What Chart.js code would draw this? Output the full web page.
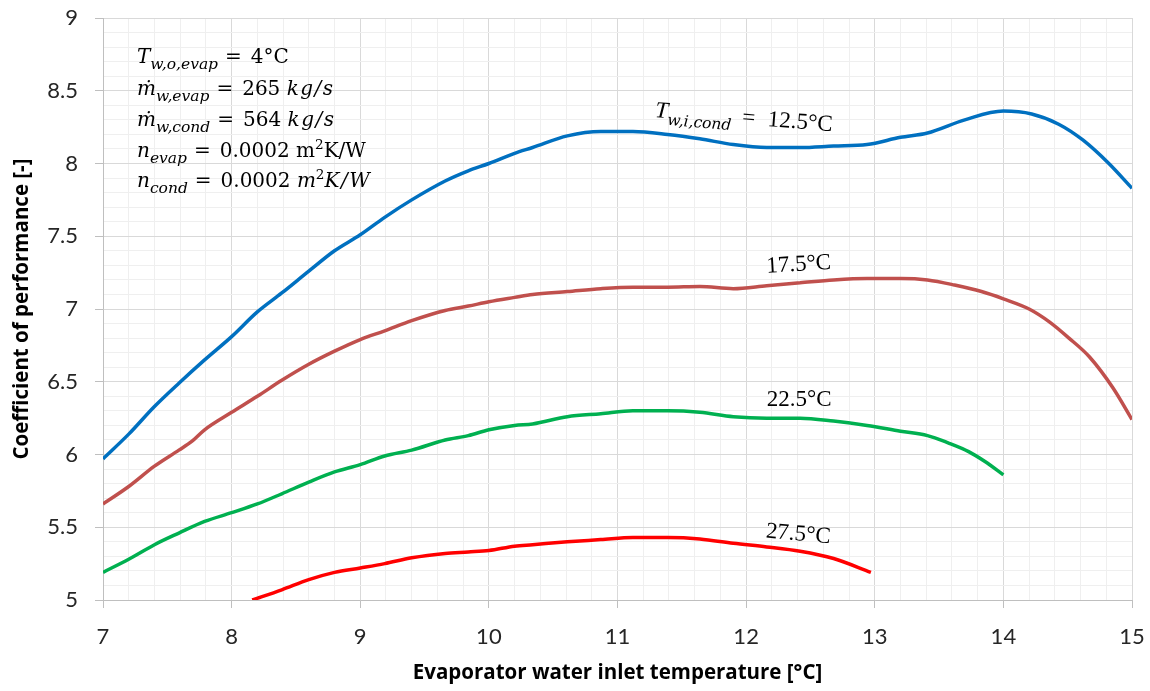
<!DOCTYPE html>
<html>
<head>
<meta charset="utf-8">
<script src="https://cdn.jsdelivr.net/npm/chart.js@4.4.0/dist/chart.umd.min.js"></script>
<style>
  html, body { margin: 0; padding: 0; background: #ffffff; }
  canvas { display: block; }
</style>
</head>
<body>
<canvas id="cop" width="1150" height="691"></canvas>
<script>
// Evaporator water inlet temperature [°C] and COP for each condenser inlet temperature
const tEvap125 = [7, 7.2, 7.4, 7.59, 7.79, 8, 8.2, 8.39, 8.6, 8.8, 9, 9.19, 9.4, 9.66, 9.84, 10, 10.2, 10.34, 10.61, 10.87, 11.12, 11.39, 11.64, 11.9, 12.16, 12.42, 12.68, 12.94, 13.2, 13.41, 13.7, 14, 14.22, 14.43, 14.62, 14.82, 15];
const cop125   = [5.97, 6.14, 6.33, 6.49, 6.65, 6.81, 6.98, 7.11, 7.26, 7.40, 7.51, 7.63, 7.75, 7.88, 7.95, 8.0, 8.07, 8.11, 8.19, 8.22, 8.22, 8.20, 8.17, 8.13, 8.11, 8.11, 8.12, 8.13, 8.18, 8.21, 8.30, 8.36, 8.34, 8.27, 8.16, 8.0, 7.83];

const tEvap175 = [7, 7.2, 7.4, 7.59, 7.69, 7.79, 8, 8.2, 8.39, 8.6, 8.8, 9, 9.19, 9.4, 9.66, 9.84, 10, 10.2, 10.34, 10.61, 10.87, 11.12, 11.39, 11.64, 11.9, 12.16, 12.42, 12.68, 12.94, 13.2, 13.41, 13.62, 13.83, 14, 14.2, 14.36, 14.51, 14.67, 14.85, 15];
const cop175   = [5.66, 5.78, 5.92, 6.03, 6.09, 6.17, 6.29, 6.40, 6.51, 6.62, 6.71, 6.79, 6.85, 6.92, 6.99, 7.02, 7.05, 7.08, 7.10, 7.12, 7.14, 7.15, 7.15, 7.155, 7.14, 7.16, 7.18, 7.20, 7.21, 7.21, 7.20, 7.165, 7.12, 7.07, 7.0, 6.91, 6.8, 6.67, 6.46, 6.24];

const tEvap225 = [7, 7.2, 7.4, 7.59, 7.79, 8, 8.2, 8.39, 8.6, 8.8, 9, 9.19, 9.4, 9.66, 9.84, 10, 10.2, 10.34, 10.61, 10.87, 11.12, 11.39, 11.64, 11.9, 12.16, 12.42, 12.68, 12.94, 13.2, 13.41, 13.57, 13.73, 13.86, 14];
const cop225   = [5.19, 5.28, 5.38, 5.46, 5.54, 5.60, 5.66, 5.73, 5.81, 5.88, 5.93, 5.99, 6.03, 6.10, 6.13, 6.17, 6.20, 6.21, 6.26, 6.28, 6.30, 6.30, 6.29, 6.26, 6.25, 6.25, 6.23, 6.20, 6.16, 6.13, 6.08, 6.02, 5.95, 5.86];

const tEvap275 = [8.16, 8.39, 8.6, 8.8, 9, 9.19, 9.4, 9.66, 9.84, 10, 10.2, 10.34, 10.61, 10.87, 11.12, 11.39, 11.64, 11.9, 12.16, 12.42, 12.68, 12.97];
const cop275   = [5.0, 5.07, 5.14, 5.19, 5.22, 5.25, 5.29, 5.32, 5.33, 5.34, 5.37, 5.38, 5.40, 5.415, 5.43, 5.43, 5.42, 5.39, 5.365, 5.335, 5.285, 5.19];

const condTempLabels = ['12.5°C', '17.5°C', '22.5°C', '27.5°C'];
const seriesColors = ['#0070C0', '#C0504D', '#00B050', '#FF0000'];

const xTitle = 'Evaporator water inlet temperature [°C]';
const yTitle = 'Coefficient of performance [-]';

const toPoints = (xs, ys) => xs.map((x, i) => ({ x, y: ys[i] }));
const isWhole = v => Math.abs(v - Math.round(v)) < 1e-6;
const isHalf = v => Math.abs(v * 2 - Math.round(v * 2)) < 1e-6;

// Typesetting styles for the math-like annotations
const blockStyle = { size: 20, family: '"DejaVu Serif", "Liberation Serif", serif', subSize: 15.5, eqPre: 0.35, eqPost: 0.45, italicSpacing: 1.5 };
const tagStyle = { size: 23, family: '"Liberation Serif", "DejaVu Serif", serif', subSize: 15.5, eqPre: 0.45, eqPost: 0.55, italicSpacing: 0 };
const SUB_FAMILY = '"DejaVu Serif", "Liberation Serif", serif';

// Draws a run of text pieces; each piece is [text, flags] with flags from:
// i (italic), sub, sup, eq (equals sign with math spacing)
function drawRich(ctx, parts, x, y, st) {
  let cx = x;
  const size = st.size;
  for (const [text, flags] of parts) {
    const f = flags.split(' ');
    const italic = f.includes('i');
    const sub = f.includes('sub');
    const sup = f.includes('sup');
    ctx.letterSpacing = '0px';
    if (f.includes('eq')) {
      ctx.font = size + 'px ' + st.family;
      cx += size * st.eqPre;
      ctx.fillText('=', cx, y);
      cx += ctx.measureText('=').width + size * st.eqPost;
      continue;
    }
    let fs = size, fam = st.family, dy = 0;
    if (sub) { fs = st.subSize; fam = SUB_FAMILY; dy = size * 0.3; }
    if (sup) { fs = size * 0.68; dy = -size * 0.38; }
    if (italic && !sub && text.length > 1) ctx.letterSpacing = st.italicSpacing + 'px';
    ctx.font = (italic ? 'italic ' : '') + fs.toFixed(1) + 'px ' + fam;
    ctx.fillText(text, cx, y + dy);
    cx += ctx.measureText(text).width;
  }
  ctx.letterSpacing = '0px';
}

const paramLines = [
  [['T', 'i'], ['w,o,evap', 'i sub'], ['', 'eq'], ['4°C', '']],
  [['ṁ', 'i'], ['w,evap', 'i sub'], ['', 'eq'], ['265 ', ''], ['kg/s', 'i']],
  [['ṁ', 'i'], ['w,cond', 'i sub'], ['', 'eq'], ['564 ', ''], ['kg/s', 'i']],
  [['n', 'i'], ['evap', 'i sub'], ['', 'eq'], ['0.0002 m', ''], ['2', 'sup'], ['K/W', '']],
  [['n', 'i'], ['cond', 'i sub'], ['', 'eq'], ['0.0002 ', ''], ['m', 'i'], ['2', 'sup'], ['K/W', 'i']]
];

const annotations = {
  id: 'annotations',
  afterDatasetsDraw(chart) {
    const { ctx, scales: { x, y } } = chart;
    ctx.save();
    ctx.fillStyle = '#000000';
    ctx.textBaseline = 'alphabetic';
    ctx.textAlign = 'left';

    // Operating conditions block
    const baselines = [63, 95, 126, 157, 187];
    paramLines.forEach((parts, i) => drawRich(ctx, parts, 137, baselines[i], blockStyle));

    // Curve labels, anchored in data coordinates
    const curveTags = [
      { at: [11.29, 8.32], rot: 0.08, parts: [['T', 'i'], ['w,i,cond', 'i sub'], ['', 'eq'], [condTempLabels[0], '']] },
      { at: [12.16, 7.25], rot: -0.06, parts: [[condTempLabels[1], '']] },
      { at: [12.16, 6.33], rot: 0.0, parts: [[condTempLabels[2], '']] },
      { at: [12.15, 5.43], rot: 0.09, parts: [[condTempLabels[3], '']] }
    ];
    for (const tag of curveTags) {
      ctx.save();
      ctx.translate(x.getPixelForValue(tag.at[0]), y.getPixelForValue(tag.at[1]));
      ctx.rotate(tag.rot);
      drawRich(ctx, tag.parts, 0, 0, tagStyle);
      ctx.restore();
    }
    ctx.restore();
  }
};

const majorGrid = '#D9D9D9';
const minorGrid = '#EFEFEF';
const tickFont = { family: 'Lato, "Open Sans", sans-serif', size: 22 };
const titleFont = { family: '"Open Sans", Lato, sans-serif', size: 20.5, weight: 'bold' };

new Chart(document.getElementById('cop'), {
  type: 'line',
  data: {
    datasets: [
      { label: condTempLabels[0], data: toPoints(tEvap125, cop125), borderColor: seriesColors[0] },
      { label: condTempLabels[1], data: toPoints(tEvap175, cop175), borderColor: seriesColors[1] },
      { label: condTempLabels[2], data: toPoints(tEvap225, cop225), borderColor: seriesColors[2] },
      { label: condTempLabels[3], data: toPoints(tEvap275, cop275), borderColor: seriesColors[3] }
    ]
  },
  options: {
    responsive: false,
    animation: false,
    devicePixelRatio: 1,
    layout: { padding: { top: 18, right: 18, left: 0, bottom: 0 } },
    plugins: { legend: { display: false }, tooltip: { enabled: false } },
    elements: {
      point: { radius: 0 },
      line: { borderWidth: 3.5, cubicInterpolationMode: 'monotone', capBezierPoints: true }
    },
    scales: {
      x: {
        type: 'linear',
        min: 7,
        max: 15,
        afterFit(scale) {
          scale.height = 91;
          scale.paddingLeft = 0;
          scale.paddingRight = 0;
        },
        ticks: {
          stepSize: 0.2,
          autoSkip: false,
          maxRotation: 0,
          padding: 16,
          color: '#262626',
          font: tickFont,
          callback: v => isWhole(v) ? String(Math.round(v)) : ''
        },
        grid: {
          lineWidth: 1,
          tickLength: 8,
          color: c => isWhole(c.tick.value) ? majorGrid : minorGrid,
          tickColor: c => isWhole(c.tick.value) ? '#BFBFBF' : 'rgba(0,0,0,0)'
        },
        border: { color: '#BFBFBF', width: 1 },
        title: { display: true, text: xTitle, color: '#000000', font: titleFont, padding: { top: 0, bottom: 6 } }
      },
      y: {
        type: 'linear',
        min: 5,
        max: 9,
        afterFit(scale) {
          scale.width = 103;
          scale.paddingTop = 0;
          scale.paddingBottom = 0;
        },
        ticks: {
          stepSize: 0.1,
          autoSkip: false,
          padding: 17,
          color: '#262626',
          font: tickFont,
          callback: v => isHalf(v) ? String(Math.round(v * 10) / 10) : ''
        },
        grid: {
          lineWidth: 1,
          tickLength: 8,
          color: c => isHalf(c.tick.value) ? majorGrid : minorGrid,
          tickColor: c => isHalf(c.tick.value) ? '#BFBFBF' : 'rgba(0,0,0,0)'
        },
        border: { color: '#BFBFBF', width: 1 },
        title: { display: true, text: yTitle, color: '#000000', font: titleFont, padding: { top: 10, bottom: 0 } }
      }
    }
  },
  plugins: [annotations]
});
</script>
</body>
</html>
